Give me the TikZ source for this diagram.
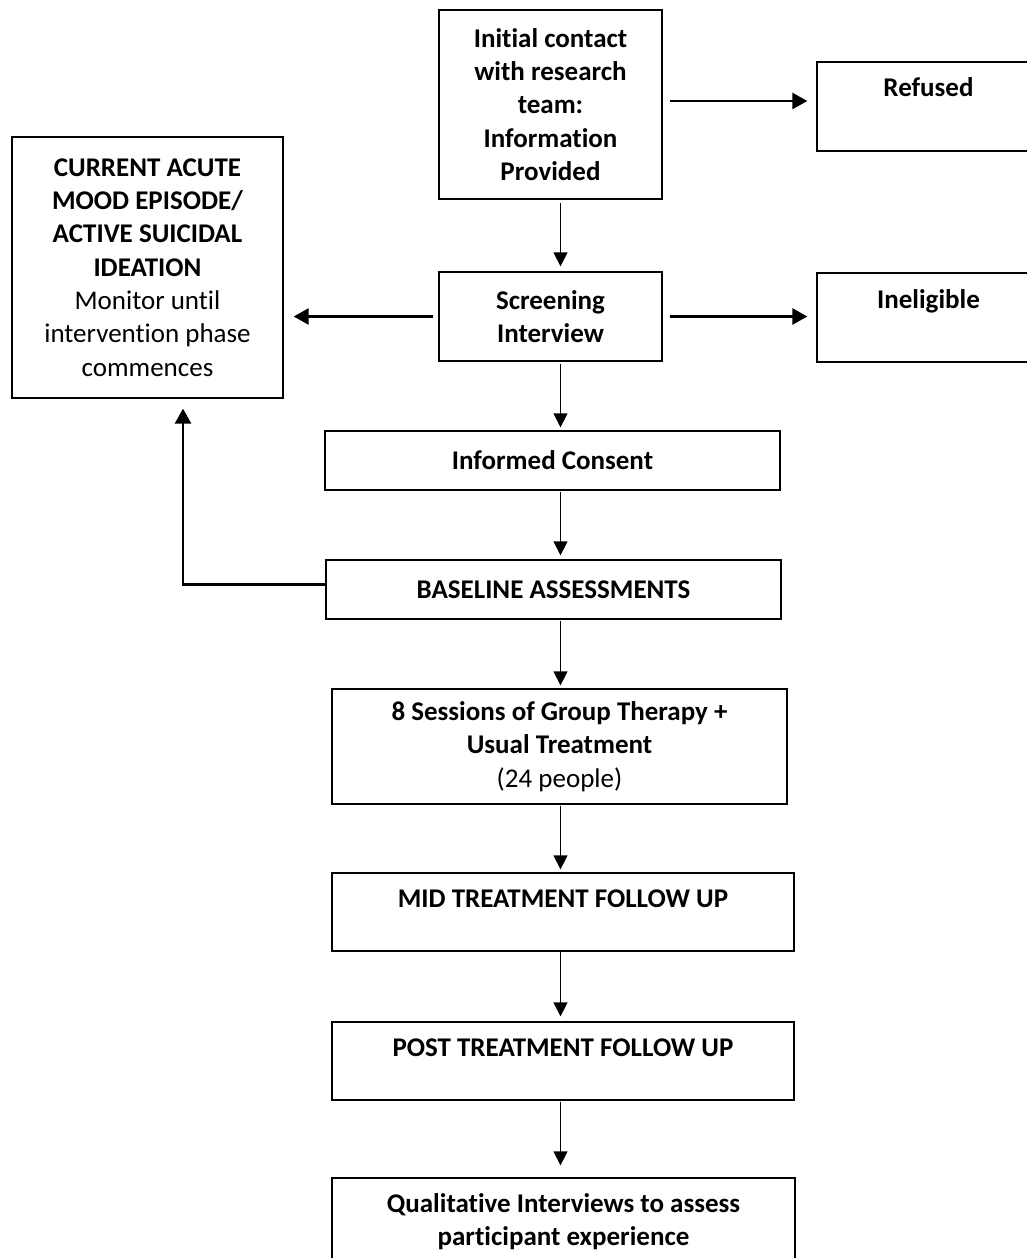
\documentclass[tikz,border=0pt]{standalone}
\usepackage{fontspec}
\setmainfont{Carlito}[Ligatures=NoCommon]
\usepackage{tikz}
\usetikzlibrary{arrows.meta, positioning, calc}
\tikzset{
  box/.style={draw=black, fill=white, line width=1.3pt, inner sep=0pt, align=center,
              font=\fontsize{27}{33.3}\selectfont\bfseries},
  flow/.style={-{Triangle[length=14pt,width=14pt]}, line width=1.4pt},
  sideflow/.style={-{Triangle[length=15pt,width=16pt]}, line width=2.6pt},
}

\begin{document}
\begin{tikzpicture}[x=1pt,y=-1pt]
\useasboundingbox (0,0) rectangle (1027,1258);
\clip (0,0) rectangle (1027,1258);
\coordinate (spine) at (560.5,0);
% top row
\node[box,minimum width=223pt,minimum height=189pt] (init) at (550.5,104.5)
  {Initial contact\\with research\\team:\\Information\\Provided};
\node[box,minimum width=223pt,minimum height=89pt,text depth=38pt] (refused) at (928.5,106.5) {Refused};
% screening row
\node[box,minimum width=223pt,minimum height=89pt] (screen) at (550.5,316.5) {Screening\\Interview};
\node[box,minimum width=223pt,minimum height=89pt,text depth=37pt] (inelig) at (928.5,317.5) {Ineligible};
\node[box,minimum width=271pt,minimum height=261pt] (monitor) at (147.5,267.5)
  {CURRENT ACUTE\\MOOD EPISODE/\\ACTIVE SUICIDAL\\IDEATION\\\textmd{Monitor until}\\\textmd{intervention phase}\\\textmd{commences}};
% main column
\node[box,minimum width=455pt,minimum height=59pt] (consent) at (552.5,460.5) {Informed Consent};
\node[box,minimum width=455pt,minimum height=59pt] (base) at (553.5,589.5) {BASELINE ASSESSMENTS};
\node[box,minimum width=455pt,minimum height=115pt] (group) at (559.5,746.5)
  {8 Sessions of Group Therapy +\\Usual Treatment\\\textmd{(24 people)}};
\node[box,minimum width=462pt,minimum height=78pt,text depth=27pt] (mid) at (563,912) {MID TREATMENT FOLLOW UP};
\node[box,minimum width=462pt,minimum height=78pt,text depth=27pt] (post) at (563,1061) {POST TREATMENT FOLLOW UP};
\node[box,minimum width=463pt,minimum height=87pt] (qual) at (563.5,1221.5)
  {Qualitative Interviews to assess\\participant experience};

% side arrows
\draw[sideflow,shorten <=7pt,shorten >=9pt] ([yshift=3.5pt]init.east) -- ([yshift=3.5pt]init.east -| refused.west);
\draw[sideflow,shorten <=7pt,shorten >=9pt] (screen.east) -- (screen.east -| inelig.west);
\draw[sideflow,shorten <=5pt,shorten >=10pt] (screen.west) -- (screen.west -| monitor.east);
\draw[sideflow,shorten >=10pt] ([yshift=5pt]base.west) -| ($(monitor.south)+(35.5,0)$);

% down the spine
\draw[flow,shorten <=3pt,shorten >=5pt] (init.south -| spine) -- (screen.north -| spine);
\draw[flow,shorten <=2pt,shorten >=3pt] (screen.south -| spine) -- (consent.north -| spine);
\draw[flow,shorten <=1pt,shorten >=4pt] (consent.south -| spine) -- (base.north -| spine);
\draw[flow,shorten <=1pt,shorten >=3pt] (base.south -| spine) -- (group.north -| spine);
\draw[flow,shorten <=1pt,shorten >=3pt] (group.south -| spine) -- (mid.north -| spine);
\draw[flow,shorten >=5pt] (mid.south -| spine) -- (post.north -| spine);
\draw[flow,shorten <=1pt,shorten >=12pt] (post.south -| spine) -- (qual.north -| spine);
\end{tikzpicture}
\end{document}
